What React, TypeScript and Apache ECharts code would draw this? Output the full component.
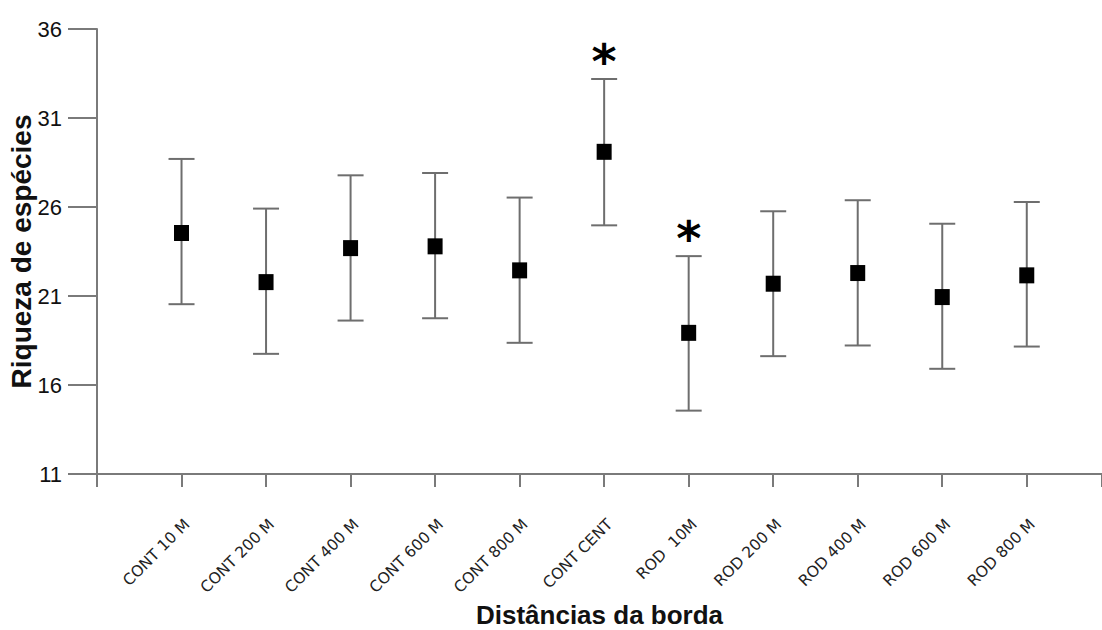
import React, { useEffect, useRef } from "react";
import * as echarts from "echarts";

const categories = [
  "CONT 10 M", "CONT 200 M", "CONT 400 M", "CONT 600 M", "CONT 800 M", "CONT CENT",
  "ROD  10M", "ROD 200 M", "ROD 400 M", "ROD 600 M", "ROD 800 M",
];
const means = [24.54, 21.78, 23.69, 23.79, 22.44, 29.1, 18.93, 21.69, 22.29, 20.94, 22.16];
const upper = [28.7, 25.91, 27.78, 27.91, 26.53, 33.19, 23.24, 25.76, 26.38, 25.06, 26.28];
const lower = [20.54, 17.75, 19.62, 19.75, 18.37, 24.97, 14.56, 17.62, 18.22, 16.91, 18.16];
const significant = [false, false, false, false, false, true, true, false, false, false, false];

export default function App() {
  const ref = useRef<HTMLDivElement>(null);
  useEffect(() => {
    document.body.style.margin = "0";
    const chart = echarts.init(ref.current!, null, { renderer: "svg" });
    const errData = categories.map((_, i) => [i + 1, lower[i], upper[i], significant[i] ? 1 : 0]);
    const meanData = categories.map((_, i) => [i + 1, means[i]]);
    chart.setOption({
      animation: false,
      backgroundColor: "#ffffff",
      grid: { left: 97, right: 0, top: 29, bottom: 156, containLabel: false, outerBoundsMode: "none" },
      xAxis: {
        type: "value",
        min: 0,
        max: 11.89,
        interval: 1,
        splitLine: { show: false },
        axisLine: { lineStyle: { color: "#7a7a7a", width: 2 } },
        axisTick: { length: 13, lineStyle: { color: "#7a7a7a", width: 2 } },
        axisLabel: {
          rotate: 45,
          margin: 42,
          verticalAlign: "top",
          fontFamily: "DejaVu Sans",
          fontSize: 15.5,
          color: "#222",
          formatter: (v: number) => {
            const r = Math.round(v);
            return Math.abs(v - r) < 1e-6 && r >= 1 && r <= categories.length ? categories[r - 1] : "";
          },
        },
        name: "Distâncias da borda",
        nameLocation: "middle",
        nameGap: 128,
        nameMoveOverlap: false,
        nameTextStyle: { fontFamily: "Arial, Liberation Sans", fontWeight: "bold", fontSize: 26, color: "#111" },
      },
      yAxis: {
        type: "value",
        min: 11,
        max: 36,
        interval: 5,
        splitLine: { show: false },
        axisLine: { lineStyle: { color: "#7a7a7a", width: 2 } },
        axisTick: { length: 29, lineStyle: { color: "#7a7a7a", width: 2 } },
        axisLabel: { margin: 35, fontFamily: "Arial, Liberation Sans", fontSize: 22, color: "#111" },
        name: "Riqueza de espécies",
        nameLocation: "middle",
        nameGap: 62,
        nameMoveOverlap: false,
        nameTextStyle: { fontFamily: "Arial, Liberation Sans", fontWeight: "bold", fontSize: 28, color: "#111" },
      },
      series: [
        {
          type: "custom",
          data: errData,
          z: 2,
          renderItem: (params: any, api: any) => {
            const x = api.value(0);
            const lo = api.coord([x, api.value(1)]);
            const hi = api.coord([x, api.value(2)]);
            const hw = 13;
            const style = { stroke: "#6e6e6e", lineWidth: 2 };
            const children: any[] = [
              { type: "line", shape: { x1: hi[0], y1: hi[1], x2: lo[0], y2: lo[1] }, style },
              { type: "line", shape: { x1: hi[0] - hw, y1: hi[1], x2: hi[0] + hw, y2: hi[1] }, style },
              { type: "line", shape: { x1: lo[0] - hw, y1: lo[1], x2: lo[0] + hw, y2: lo[1] }, style },
            ];
            if (api.value(3)) {
              children.push({
                type: "text",
                x: hi[0],
                y: hi[1] + 6,
                style: {
                  text: "*",
                  fontFamily: "DejaVu Sans",
                  fontWeight: "bold",
                  fontSize: 48,
                  fill: "#000",
                  align: "center",
                  verticalAlign: "bottom",
                },
              });
            }
            return { type: "group", children };
          },
        },
        {
          type: "scatter",
          data: meanData,
          z: 3,
          symbol: "rect",
          symbolSize: [15, 16],
          itemStyle: { color: "#000", opacity: 1 },
        },
      ],
    });
    return () => chart.dispose();
  }, []);
  return <div ref={ref} style={{ width: 1102, height: 630 }} />;
}
